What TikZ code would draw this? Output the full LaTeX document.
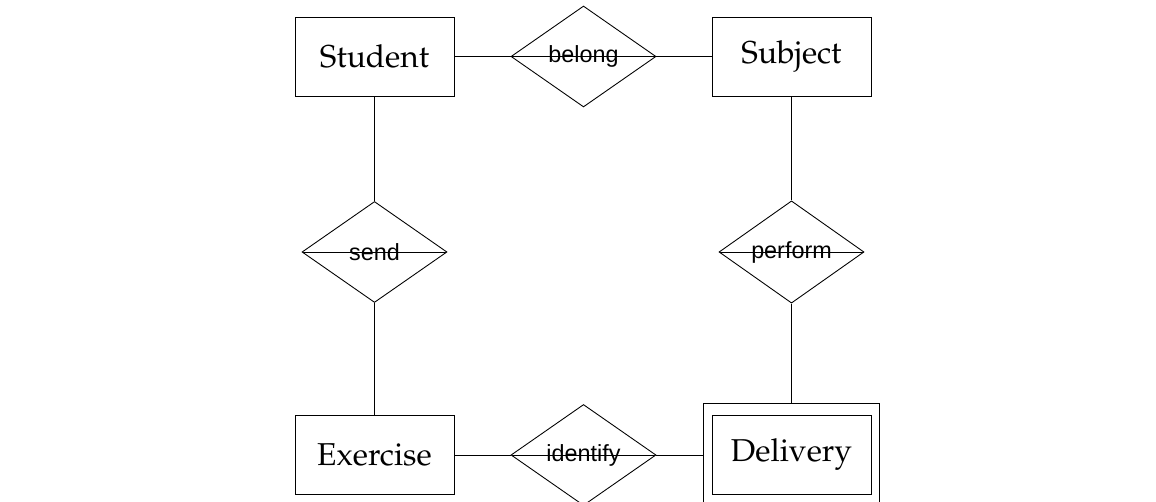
\documentclass[tikz,border=0pt]{standalone}
\usepackage[T1]{fontenc}
\usepackage{fontspec}
\usepackage{tikz}
\usetikzlibrary{shapes.geometric,positioning}
\newfontfamily\relfont{Liberation Sans}
\newcommand{\entfont}{\fontencoding{T1}\fontfamily{ppl}\fontsize{18}{20}\selectfont}

\begin{document}
\begin{tikzpicture}[x=0.02cm, y=-0.02cm, line width=0.5pt,
  entity/.style={draw, rectangle, minimum width=3.18cm, minimum height=1.58cm, inner sep=0pt, font=\entfont},
  relation/.style={draw, diamond, minimum width=2.9cm, minimum height=2.02cm, inner sep=0pt,
    font={\relfont\fontsize{13.3}{15}\selectfont},
    path picture={\draw (path picture bounding box.west) -- (path picture bounding box.east);}}]
\useasboundingbox (0,0) rectangle (1156,502);
% entities
\node[entity] (stud) at (374.5,56.5) {Student};
\node[entity] (subj) at (791.5,56.5) {Subject};
\node[entity] (exer) at (374.5,455) {Exercise};
\node[entity] (deliv) at (791.5,455) {Delivery};
\node[draw, minimum width=3.52cm, minimum height=2.06cm, inner sep=0pt] (delivout) at (791.5,455) {};
% relationships
\node[relation] (belong) at (583.5,56.5) {belong};
\node[relation] (send) at (374.5,252) {send};
\node[relation] (perform) at (791.5,252) {perform};
\node[relation] (ident) at (583.5,455) {identify};
% links
\draw (stud) -- (belong) -- (subj);
\draw (stud) -- (send) -- (exer);
\draw (subj) -- (perform) -- (delivout);
\draw (exer) -- (ident) -- (delivout);
\end{tikzpicture}
\end{document}
